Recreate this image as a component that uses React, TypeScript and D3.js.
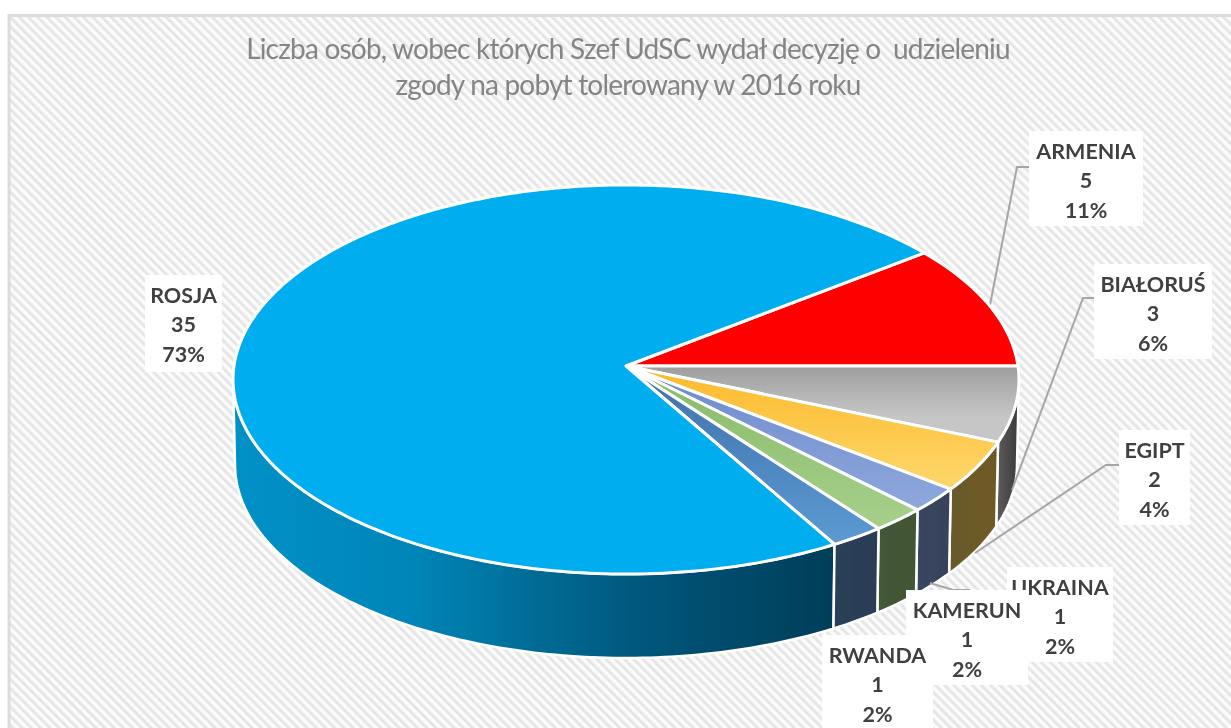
import React from "react";
import * as d3 from "d3";

const categories = ["ARMENIA", "BIAŁORUŚ", "EGIPT", "UKRAINA", "KAMERUN", "RWANDA", "ROSJA"];
const values = [5, 3, 2, 1, 1, 1, 35];
const percentLabels = ["11%", "6%", "4%", "2%", "2%", "2%", "73%"];
const titleLines = [
  "Liczba osób, wobec których Szef UdSC wydał decyzję o  udzieleniu",
  "zgody na pobyt tolerowany w 2016 roku",
];
const topFrom = ["#ff0000", "#9d9d9d", "#fdb92a", "#6c89cd", "#86ba66", "#3e70a8", "#00aeef"];
const topTo = ["#ff0000", "#c6c6c6", "#fdd566", "#8fa9dc", "#a8d08d", "#5d9bd5", "#00aeef"];
const wallFrom = ["#990000", "#5a5a5a", "#6a5a2c", "#3a4660", "#445838", "#2a4058", "#0091c7"];
const wallTo = ["#990000", "#3c3c3c", "#6e5a24", "#38425a", "#425434", "#2a3c54", "#003e58"];
// boxes: x0, y0, x1, y1
const boxes = [
  [1029, 131, 1143, 226],
  [1094, 264, 1212, 359],
  [1119, 430, 1190, 525],
  [1007, 567, 1113, 662],
  [906, 590, 1028, 685],
  [822, 635, 933, 730],
  [145, 275, 222, 372],
];
const leaders = [
  [[1030, 167], [1017, 167], [990, 305]],
  [[1095, 298], [1083, 298], [1012, 490]],
  [[1120, 465], [1106, 465], [975, 553]],
  [[930, 583], [953, 590], [970, 590]],
];

const CX = 626, CY = 366, A = 392, K = 193.6, P = 0.0694, DEPTH = 85;
const DEG = Math.PI / 180;
const angleStart = 52.5 * DEG;
const frontFrom = 94 * DEG, frontTo = 266 * DEG;

const project = (theta: number, lower = false): [number, number] => {
  const u = Math.sin(theta), v = -Math.cos(theta), d = 1 - P * v;
  const s = lower ? 0.995 : 1;
  return [CX + (s * A * u) / d, CY + (lower ? DEPTH : 0) + (s * K * v) / d];
};

const pie = d3.pie<number>().sort(null).startAngle(angleStart).endAngle(angleStart + 2 * Math.PI);
const arcs = pie(values);
const line = d3.line();
const samples = (a: number, b: number) => {
  const n = Math.max(4, Math.ceil((b - a) / (1 * DEG)));
  return d3.range(n + 1).map((i) => a + ((b - a) * i) / n);
};
const topPath = (a: number, b: number) =>
  line([[CX, CY], ...samples(a, b).map((t) => project(t))]) + "Z";
const wallPath = (a0: number, b0: number) => {
  const a = Math.max(a0, frontFrom), b = Math.min(b0, frontTo);
  if (a >= b) return "";
  return (
    line([
      ...samples(a, b).map((t) => project(t)),
      ...samples(a, b).reverse().map((t) => project(t, true)),
    ]) + "Z"
  );
};

const FONT = "Lato, Carlito, sans-serif";
const wallOrder = [6, 0, 1, 2, 3, 4, 5];

export default function App() {
  return (
    <svg width={1231} height={728} viewBox="0 0 1231 728"
      style={{ position: "absolute", left: 0, top: 0, display: "block" }}>
      <defs>
        <pattern id="hatch" width={6.5} height={6.5} patternUnits="userSpaceOnUse" patternTransform="rotate(-45)">
          <rect width={6.5} height={6.5} fill="#fbfbfb" />
          <rect width={3} height={6.5} fill="#e6e6e6" />
        </pattern>
        <filter id="soft" x="-2%" y="-2%" width="104%" height="104%">
          <feGaussianBlur stdDeviation={0.55} />
        </filter>
        {arcs.map((d, i) => {
          const outer = project((d.startAngle + d.endAngle) / 2);
          return (
            <linearGradient key={i} id={`top${i}`} gradientUnits="userSpaceOnUse"
              x1={0} x2={0} y1={CY} y2={i === 0 || i === 6 ? CY + 1 : outer[1] + 12}>
              <stop offset="0" stopColor={topFrom[i]} />
              <stop offset="1" stopColor={topTo[i]} />
            </linearGradient>
          );
        })}
        {arcs.map((d, i) => {
          const p0 = project(d.startAngle), p1 = project(d.endAngle);
          const x1 = i === 6 ? 233 : Math.min(p0[0], p1[0]);
          const x2 = i === 6 ? 833 : Math.max(p0[0], p1[0]);
          return i === 6 ? (
            <linearGradient key={i} id={`wall${i}`} gradientUnits="userSpaceOnUse" x1={x1} x2={x2} y1={0} y2={0}>
              <stop offset="0" stopColor="#0091c7" />
              <stop offset="0.3" stopColor="#0085b8" />
              <stop offset="0.5" stopColor="#006c96" />
              <stop offset="0.7" stopColor="#00557a" />
              <stop offset="1" stopColor="#003e58" />
            </linearGradient>
          ) : (
            <linearGradient key={i} id={`wall${i}`} gradientUnits="userSpaceOnUse" x1={x1} x2={x2} y1={0} y2={0}>
              <stop offset="0" stopColor={wallFrom[i]} />
              <stop offset="1" stopColor={wallTo[i]} />
            </linearGradient>
          );
        })}
      </defs>
      <rect width={1231} height={728} fill="#ffffff" />
      <rect x={9} y={15.5} width={1240} height={730} fill="url(#hatch)" stroke="#dcdcdc" strokeWidth={3} />
      <g filter="url(#soft)">
        {titleLines.map((t, i) => (
          <text key={i} x={628} y={59 + i * 36} textAnchor="middle" fontFamily={FONT}
            fontSize={28} letterSpacing={-0.8} fill="#858585" style={{ whiteSpace: "pre" }}>{t}</text>
        ))}
        {wallOrder.map((i) => (
          <path key={i} d={wallPath(arcs[i].startAngle, arcs[i].endAngle)} fill={`url(#wall${i})`}
            stroke="#ffffff" strokeWidth={2.5} strokeLinejoin="round" />
        ))}
        {leaders.map((pts, i) => (
          <path key={i} d={line(pts as [number, number][]) as string} fill="none" stroke="#a6a6a6" strokeWidth={2} />
        ))}
        {arcs.map((d, i) => (
          <path key={i} d={topPath(d.startAngle, d.endAngle)} fill={`url(#top${i})`}
            stroke="#ffffff" strokeWidth={3} strokeLinejoin="round" />
        ))}
        {[3, 4, 5, 0, 1, 2, 6].map((i) => {
          const [x0, y0, x1, y1] = boxes[i];
          const cx = (x0 + x1) / 2;
          return (
            <g key={i}>
              <rect x={x0} y={y0} width={x1 - x0} height={y1 - y0} fill="#ffffff" />
              {[categories[i], String(values[i]), percentLabels[i]].map((t, j) => (
                <text key={j} x={cx} y={y0 + 27.5 + j * 29.5} textAnchor="middle" fontFamily={FONT}
                  fontWeight={700} fontSize={21.5} fill="#404040">{t}</text>
              ))}
            </g>
          );
        })}
      </g>
    </svg>
  );
}
